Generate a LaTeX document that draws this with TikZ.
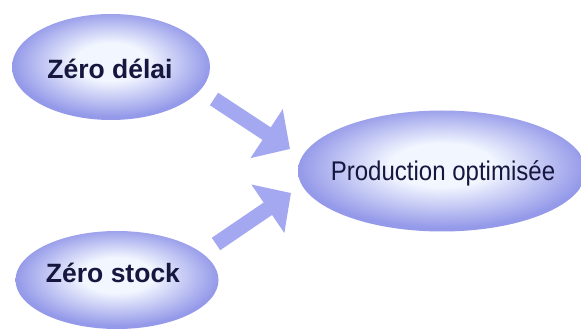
\documentclass[tikz,border=0pt]{standalone}
\usepackage{fontspec}
\setmainfont{Liberation Sans}
\usetikzlibrary{shapes.geometric,arrows.meta}
\definecolor{edgeblue}{RGB}{148,153,233}
\definecolor{centerblue}{RGB}{242,246,255}
\definecolor{arrowblue}{RGB}{164,168,241}
\definecolor{navy}{RGB}{22,22,62}
\pgfdeclareradialshading{bubbleshade}{\pgfpoint{0bp}{3bp}}{color(0bp)=(centerblue); color(9bp)=(centerblue); color(25bp)=(edgeblue); color(50bp)=(edgeblue)}
\begin{document}
\begin{tikzpicture}[x=1pt,y=-1pt,
  bubble/.style={ellipse, inner sep=0pt, shading=bubbleshade},
  boldtxt/.style={font=\fontsize{26.5}{29}\selectfont\bfseries, text=navy, inner sep=0pt},
  plaintxt/.style={font=\fontsize{27}{30}\selectfont, text=navy, inner sep=0pt},
  bigarrow/.style={draw=arrowblue, line width=15pt, -{Triangle[width=57pt,length=28pt]}}]
\useasboundingbox (0,0) rectangle (581,331);
\node[bubble, minimum width=198pt, minimum height=106pt] (d) at (111,67) {};
\node[bubble, minimum width=203pt, minimum height=98pt] (s) at (117,280) {};
\node[bubble, minimum width=288pt, minimum height=121pt] (p) at (442,171) {};
\node[boldtxt] (dt) at (110,69) {Zéro délai};
\node[boldtxt] (st) at (113,273) {Zéro stock};
\node[plaintxt] (pt) at (443,173) {\scalebox{0.89}[1]{Production optimisée}};
\coordinate (a1s) at (214,99);
\coordinate (a1e) at (290,149);
\coordinate (a2s) at (216,244);
\coordinate (a2e) at (291,193);
\draw[bigarrow] (a1s) -- (a1e);
\draw[bigarrow] (a2s) -- (a2e);
\end{tikzpicture}
\end{document}
